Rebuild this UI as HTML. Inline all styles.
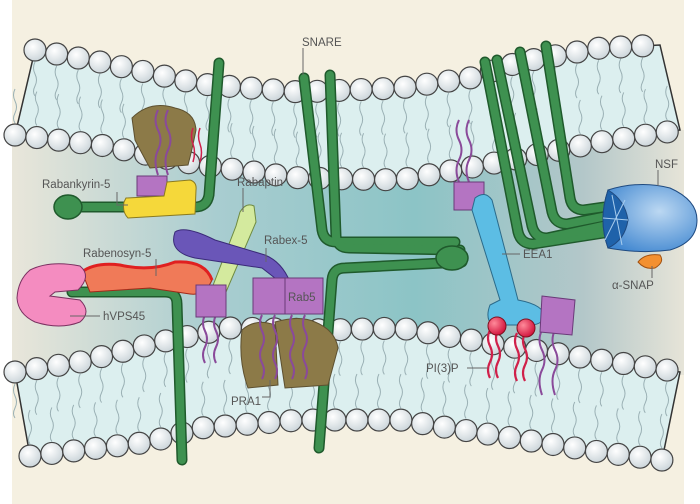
<!DOCTYPE html>
<html><head><meta charset="utf-8"><style>
html,body{margin:0;padding:0;background:#fff}
svg{display:block}
text{font-family:"Liberation Sans",sans-serif;font-size:11.5px;fill:#555}
</style></head><body>
<svg id="s" width="700" height="504" viewBox="0 0 700 504" xmlns="http://www.w3.org/2000/svg">
<defs>
<linearGradient id="cyt" x1="0" x2="1" y1="0" y2="0">
<stop offset="0" stop-color="#e9e6da"/><stop offset="0.3" stop-color="#a9cdd0"/><stop offset="0.6" stop-color="#8cc4c6"/><stop offset="0.85" stop-color="#b3c7c9"/><stop offset="1" stop-color="#e6e4d8"/>
</linearGradient>
<radialGradient id="bead" cx="0.4" cy="0.35" r="0.7"><stop offset="0" stop-color="#fff"/><stop offset="1" stop-color="#c9d3d8"/></radialGradient>
<radialGradient id="nsf" cx="0.6" cy="0.4" r="0.7"><stop offset="0" stop-color="#bcd8f2"/><stop offset="1" stop-color="#3f86d0"/></radialGradient>
<radialGradient id="red" cx="0.35" cy="0.35" r="0.7"><stop offset="0" stop-color="#ff8a9a"/><stop offset="1" stop-color="#d0103a"/></radialGradient>
</defs>
<rect x="12" y="0" width="672" height="504" fill="#f5f0e1"/>
<!-- cytosol -->
<path d="M12 140 L684 130 L684 375 L12 370 Z" fill="url(#cyt)"/>
<g id="mem"></g>
<!-- green SNAREs -->
<g fill="none" stroke-linecap="round" stroke-linejoin="round">
<g stroke="#1f5a2c" stroke-width="11">
<path d="M219 63 L209 195 Q207 207 195 207 L62 207"/>
<path d="M72 292 L165 292 Q177 292 177 304 L182 460"/>
<path d="M304 78 L322 230 Q324 242 336 242 L455 242"/>
<path d="M330 75 L336 236 Q337 248 349 248 L460 250"/>
<path d="M462 262 L345 268 Q333 268 332 280 L319 448"/>
<path d="M485 62 L518 232 Q521 244 533 244 L610 232"/>
<path d="M497 60 L532 226 Q535 238 547 238 L612 224"/>
<path d="M520 52 L552 212 Q555 224 567 224 L612 215"/>
<path d="M546 46 L570 198 Q572 210 584 210 L612 206"/>
</g>
<g stroke="#3e9150" stroke-width="8">
<path d="M219 63 L209 195 Q207 207 195 207 L62 207"/>
<path d="M72 292 L165 292 Q177 292 177 304 L182 460"/>
<path d="M304 78 L322 230 Q324 242 336 242 L455 242"/>
<path d="M330 75 L336 236 Q337 248 349 248 L460 250"/>
<path d="M462 262 L345 268 Q333 268 332 280 L319 448"/>
<path d="M485 62 L518 232 Q521 244 533 244 L610 232"/>
<path d="M497 60 L532 226 Q535 238 547 238 L612 224"/>
<path d="M520 52 L552 212 Q555 224 567 224 L612 215"/>
<path d="M546 46 L570 198 Q572 210 584 210 L612 206"/>
</g>
</g>
<ellipse cx="68" cy="207" rx="14" ry="12" fill="#3e9150" stroke="#1f5a2c" stroke-width="1.5"/>
<ellipse cx="452" cy="258" rx="16" ry="12" fill="#3e9150" stroke="#1f5a2c" stroke-width="1.5"/>
<!-- left top proteins -->
<path d="M132 118 Q150 100 175 108 Q195 112 196 130 Q192 150 188 165 L150 168 Q140 150 135 140 Z" fill="#8c7a48" stroke="#5d5030"/>
<g stroke="#8a4a9a" stroke-width="2" fill="none"><path d="M158 110 q-5 10 0 20 q5 10 0 20 q-5 10 0 25"/><path d="M168 110 q-5 10 0 20 q5 10 0 20 q-5 10 0 25"/></g>
<g stroke="#d0204a" stroke-width="1.5" fill="none"><path d="M193 128 q-3 8 0 16 q3 8 0 18"/><path d="M200 128 q-3 8 0 16 q3 8 0 18"/></g>
<rect x="137" y="176" width="30" height="20" fill="#b474c2" stroke="#6a3a78"/>
<path d="M167 182 L190 180 Q197 182 196 190 L195 214 L128 218 Q122 212 124 202 L126 198 L164 196 Z" fill="#f5d83a" stroke="#8a7a20"/>
<!-- Rabaptin -->
<path d="M240 212 Q246 202 254 206 L256 222 L226 292 L212 288 L236 226 Z" fill="#d4ea9e" stroke="#6e8a40"/>
<!-- Rabex-5 -->
<path d="M175 232 Q185 225 215 240 L265 255 Q282 262 290 282 L280 282 L262 268 L195 258 Q168 252 175 232 Z" fill="#6a56b8" stroke="#3a2a78"/>
<!-- Rabenosyn-5 -->
<path d="M82 272 Q95 262 120 265 Q150 272 175 262 Q205 260 212 280 Q205 296 190 294 L150 288 L90 292 Z" fill="#f07a58" stroke="#a02818"/>
<path d="M82 272 Q95 262 120 265 Q150 272 175 262 Q205 260 212 280" fill="none" stroke="#e02020" stroke-width="3"/>
<!-- hVPS45 -->
<path d="M30 270 Q50 260 80 266 Q92 276 78 290 L55 292 L50 296 L80 300 Q92 312 80 322 Q60 330 35 322 Q18 314 17 298 Q18 280 30 270 Z" fill="#f48cc0" stroke="#7a3060"/>
<!-- purple squares + tails -->
<g stroke="#8a4a9a" stroke-width="2" fill="none">
<path d="M205 315 q-4 8 0 16 q4 8 0 16 q-4 8 0 16"/><path d="M216 315 q-4 8 0 16 q4 8 0 16 q-4 8 0 16"/>
</g>
<path d="M242 330 Q255 318 275 325 L278 385 L248 388 Q238 360 242 330 Z" fill="#8c7a48" stroke="#5d5030"/>
<path d="M275 322 Q300 315 315 322 Q335 330 338 348 L328 385 L285 388 Z" fill="#8c7a48" stroke="#5d5030"/>
<g stroke="#8a4a9a" stroke-width="2" fill="none">
<path d="M262 315 q-4 8 0 16 q4 8 0 16 q-4 8 0 16 q4 8 0 16"/><path d="M275 315 q-4 8 0 16 q4 8 0 16 q-4 8 0 16 q4 8 0 16"/>
<path d="M292 315 q-4 8 0 16 q4 8 0 16 q-4 8 0 16 q4 8 0 16"/><path d="M305 315 q-4 8 0 16 q4 8 0 16 q-4 8 0 16 q4 8 0 16"/>
</g>
<rect x="196" y="285" width="30" height="32" fill="#b474c2" stroke="#6a3a78"/>
<rect x="253" y="278" width="32" height="36" fill="#b474c2" stroke="#6a3a78"/>
<rect x="285" y="278" width="38" height="36" fill="#b474c2" stroke="#6a3a78"/>
<!-- EEA1 region -->
<g stroke="#8a4a9a" stroke-width="2" fill="none"><path d="M459 120 q-5 10 0 20 q5 10 0 20 q-5 10 0 22"/><path d="M469 120 q-5 10 0 20 q5 10 0 20 q-5 10 0 22"/></g>
<rect x="454" y="182" width="30" height="28" fill="#b474c2" stroke="#6a3a78"/>
<path d="M475 198 Q485 190 492 200 L518 300 Q545 305 545 318 Q540 325 530 325 L492 325 Q485 318 490 305 L500 300 L472 210 Z" fill="#5cbde4" stroke="#2a6a8a"/>
<g stroke="#d0204a" stroke-width="2.2" fill="none">
<path d="M490 330 q-4 8 0 16 q4 8 0 16 q-4 8 0 16"/><path d="M498 330 q-4 8 0 16 q4 8 0 16 q-4 8 0 16"/>
<path d="M517 333 q-4 8 0 16 q4 8 0 16 q-4 8 0 16"/><path d="M525 333 q-4 8 0 16 q4 8 0 16 q-4 8 0 16"/>
</g>
<g stroke="#8a4a9a" stroke-width="2" fill="none"><path d="M542 330 q-5 10 0 20 q5 10 0 20 q-5 10 0 25"/><path d="M555 330 q-5 10 0 20 q5 10 0 20 q-5 10 0 25"/></g>
<path d="M542 296 L575 300 L572 335 L540 332 Z" fill="#b474c2" stroke="#6a3a78"/>
<circle cx="497" cy="326" r="9" fill="url(#red)" stroke="#801020"/>
<circle cx="526" cy="328" r="9" fill="url(#red)" stroke="#801020"/>
<!-- NSF -->
<path d="M608 190 Q640 180 670 188 Q697 200 697 220 Q697 242 670 250 Q640 254 608 248 Q598 220 608 190 Z" fill="url(#nsf)" stroke="#1f4a80"/>
<path d="M608 190 Q625 200 628 220 Q625 240 608 248 Q598 220 608 190 Z" fill="#1f62aa" stroke="#1f4a80"/>
<g stroke="#a8cdee" stroke-width="1"><path d="M612 195 L622 245"/><path d="M625 200 L605 240"/><path d="M603 218 L628 220"/></g>
<path d="M638 262 Q645 253 660 255 Q665 262 655 268 Q645 270 638 262 Z" fill="#f39030" stroke="#a05010"/>
<!-- labels -->
<g stroke="#666" stroke-width="1" fill="none">
<path d="M303 48 L303 75"/><path d="M117 192 L117 205 L128 205"/><path d="M243 188 L243 212"/><path d="M266 248 L266 262"/>
<path d="M156 259 L156 276"/><path d="M70 316 L100 316"/><path d="M262 397 L270 397 L270 380"/>
<path d="M502 254 L520 254"/><path d="M658 170 L658 186"/><path d="M652 266 L652 278"/><path d="M467 368 L488 368"/>
</g>
<text x="302" y="46">SNARE</text>
<text x="42" y="188">Rabankyrin-5</text>
<text x="237" y="186">Rabaptin</text>
<text x="264" y="244">Rabex-5</text>
<text x="83" y="257">Rabenosyn-5</text>
<text x="103" y="320">hVPS45</text>
<text x="288" y="301">Rab5</text>
<text x="231" y="405">PRA1</text>
<text x="523" y="258">EEA1</text>
<text x="655" y="168">NSF</text>
<text x="612" y="289">α-SNAP</text>
<text x="426" y="372">PI(3)P</text>
</svg>
<script>
(function(){
var NS="http://www.w3.org/2000/svg",g=document.getElementById("mem");
function mk(t,a,p){var e=document.createElementNS(NS,t);for(var k in a)e.setAttribute(k,a[k]);(p||g).appendChild(e);return e;}
function d(pts){var s="M"+pts[0];for(var i=1;i<pts.length;i++)s+=" L"+pts[i];return s;}
var bil=[
 {up:[[35,50],[100,62],[200,84],[300,92],[400,88],[470,78],[520,62],[600,48],[660,45]],
  lo:[[15,135],[100,145],[200,165],[300,178],[400,180],[500,162],[600,142],[680,130]]},
 {up:[[15,372],[80,362],[160,342],[230,328],[330,330],[400,328],[500,345],[600,360],[680,372]],
  lo:[[30,456],[150,442],[200,428],[300,420],[400,420],[500,436],[600,452],[662,460]]}
];
bil.forEach(function(b){
 var rl=b.lo.slice().reverse();
 mk("path",{d:d(b.up)+" L"+rl.join(" L")+" Z",fill:"#dcefef",stroke:"#333","stroke-width":1.5});
 var up=mk("path",{d:d(b.up),fill:"none"}),lo=mk("path",{d:d(b.lo),fill:"none"});
 [[up,1],[lo,-1]].forEach(function(pp){
  var p=pp[0],L=p.getTotalLength();
  for(var l=0;l<=L;l+=22){var q=p.getPointAtLength(l);
   var y0=q.y+pp[1]*12;
   mk("path",{d:"M"+q.x+" "+y0+" q-3 6 0 12 q3 6 0 12 q-3 6 0 10",fill:"none",stroke:"#9ab0b4","stroke-width":1,transform:pp[1]<0?"translate(0 "+(-34)+")":""});
  }
 });
 [up,lo].forEach(function(p){var L=p.getTotalLength();
  for(var l=0;l<=L;l+=22){var q=p.getPointAtLength(l);mk("circle",{cx:q.x,cy:q.y,r:11,fill:"url(#bead)",stroke:"#444","stroke-width":1.2});}
 });
});
})();
</script>
</body></html>
